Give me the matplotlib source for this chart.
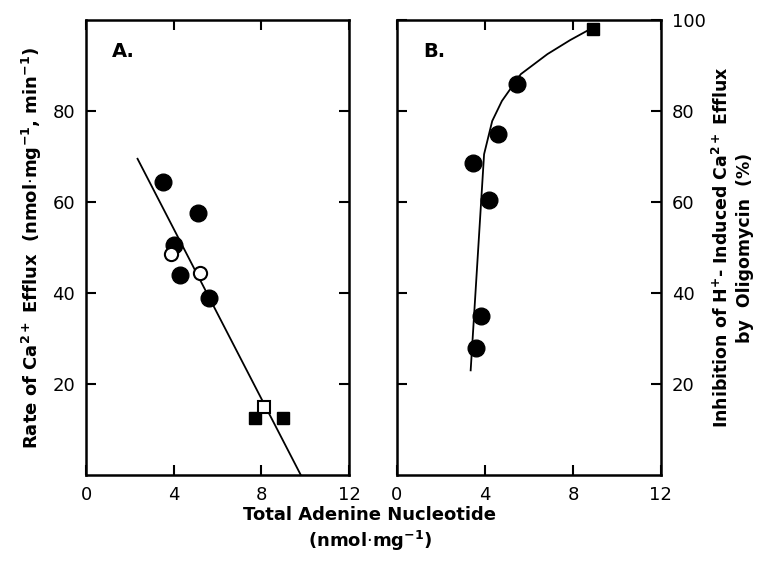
import numpy as np
import matplotlib.pyplot as plt

# panel A data
a_filled_x = [3.5, 5.1, 4.0, 4.3, 5.6]
a_filled_y = [64.5, 57.5, 50.5, 44.0, 39.0]
a_open_x = [3.9, 5.2]
a_open_y = [48.5, 44.5]
a_sq_x = [7.7, 9.0]
a_sq_y = [12.5, 12.5]
a_opensq_x = [8.1]
a_opensq_y = [15.0]
a_line_x = [2.35, 9.8]
a_line_y = [69.5, 0.0]

# panel B data
b_filled_x = [5.45, 4.6, 3.45, 4.2, 3.8, 3.6]
b_filled_y = [86.0, 75.0, 68.5, 60.5, 35.0, 28.0]
b_sq_x = [8.9]
b_sq_y = [98.0]
b_curve_x = [3.35, 3.96, 4.33, 4.77, 5.63, 6.84, 7.88, 8.9]
b_curve_y = [23.0, 70.5, 77.8, 82.2, 88.1, 92.5, 95.6, 98.3]

xticks = [0, 4, 8, 12]
yticks = [20, 40, 60, 80]

plt.rcParams['font.family'] = 'DejaVu Sans'

fig = plt.figure(figsize=(7.64, 5.63), dpi=100)
axA = fig.add_axes([0.1126, 0.1563, 0.3442, 0.8082])
axB = fig.add_axes([0.5196, 0.1563, 0.3455, 0.8082])

for ax in (axA, axB):
    ax.set_xlim(0, 12)
    ax.set_ylim(0, 100)
    ax.set_xticks(xticks)
    ax.tick_params(direction='in', length=7, width=1.5, top=True, right=True,
                   labelsize=13, pad=8)
    for s in ax.spines.values():
        s.set_linewidth(1.8)

# panel A
axA.plot(a_line_x, a_line_y, color='black', lw=1.3)
axA.plot(a_filled_x, a_filled_y, 'o', color='black', ms=12, clip_on=False)
axA.plot(a_open_x, a_open_y, 'o', mfc='white', mec='black', mew=1.5, ms=9.5)
axA.plot(a_sq_x, a_sq_y, 's', color='black', ms=8)
axA.plot(a_opensq_x, a_opensq_y, 's', mfc='white', mec='black', mew=1.5, ms=8)
axA.set_yticks(yticks)
axA.text(0.1, 0.93, 'A.', transform=axA.transAxes, fontsize=14, fontweight='bold', va='center')
axA.set_ylabel('Rate of Ca$^{\\mathbf{2+}}$ Efflux  (nmol$\\cdot$mg$^{\\mathbf{-1}}$, min$^{\\mathbf{-1}}$)',
               fontsize=13, fontweight='bold', labelpad=6)

# panel B
axB.plot(b_curve_x, b_curve_y, color='black', lw=1.3)
axB.plot(b_filled_x, b_filled_y, 'o', color='black', ms=12)
axB.plot(b_sq_x, b_sq_y, 's', color='black', ms=9, clip_on=False)
axB.set_yticks(yticks + [100])
axB.tick_params(labelleft=False, labelright=True)
axB.text(0.1, 0.93, 'B.', transform=axB.transAxes, fontsize=14, fontweight='bold', va='center')
axB.yaxis.set_label_position('right')
axB.set_ylabel('Inhibition of H$^{\\mathbf{+}}$- Induced Ca$^{\\mathbf{2+}}$ Efflux\nby  Oligomycin  (%)',
               fontsize=12.5, fontweight='bold', labelpad=4, linespacing=1.3)

fig.text(0.484, 0.085, 'Total Adenine Nucleotide', ha='center', va='center',
         fontsize=13, fontweight='bold')
fig.text(0.484, 0.04, '(nmol$\\cdot$mg$^{\\mathbf{-1}}$)', ha='center', va='center',
         fontsize=13, fontweight='bold')

fig.savefig('out.png', dpi=100)
